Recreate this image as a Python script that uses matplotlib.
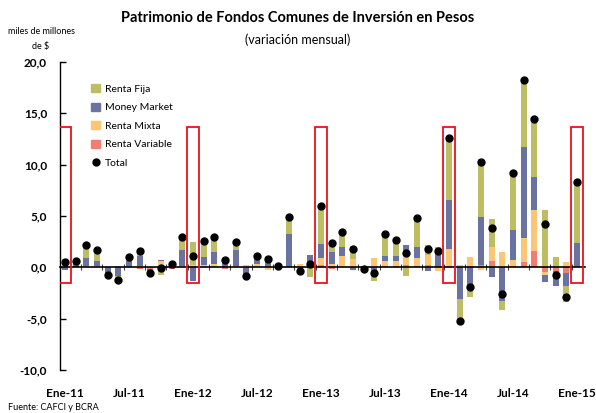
import numpy as np
import matplotlib
matplotlib.use('Agg')
import matplotlib.pyplot as plt
from matplotlib.lines import Line2D
from matplotlib.patches import Rectangle

plt.rcParams['font.family'] = ['Lato', 'DejaVu Sans']

# variacion mensual, miles de millones de $ (Ene-11 .. Ene-15)
fija = [0.8, 0.3, 1.2, 1.1, -0.2, -0.4, 0.3, 0.5, 0.0, -0.75, 0.15, 1.25,
        2.25, 1.6, 1.5, 0.4, 0.8, -0.15, 0.35, 0.15, 0.2, 1.7, -0.6, -0.9,
        3.7, 0.85, 1.45, 1.2, -0.1, -0.85, 2.05, 1.55, -0.8, 2.85, 1.0, 0.3,
        6.25, -2.2, -0.8, 5.6, 2.7, -0.9, 5.5, 6.5, 5.6, 5.6, 1.05, -1.6, 5.95]
money_market = [-0.3, 0.4, 0.8, 0.5, -0.55, -0.8, 0.6, 1.05, -0.3, 0.1, 0.15, 1.55,
                -1.3, 0.8, 1.15, 0.35, 1.55, -0.9, 0.5, 0.9, -0.2, 3.25, 0.0, 1.2,
                1.4, 1.2, 0.85, -0.3, -0.15, -0.5, 0.55, 0.5, 1.0, 1.05, -0.4, 1.7,
                4.75, -3.1, -2.1, 4.7, -0.9, -3.25, 2.9, 8.85, 3.2, -0.65, -1.4, -1.2, 2.2]
mixta = [0.0, 0.0, 0.15, 0.1, 0.05, 0.1, 0.05, 0.1, 0.0, 0.6, 0.0, 0.15,
         0.15, 0.25, 0.35, 0.05, 0.15, 0.2, 0.3, -0.3, 0.0, 0.0, 0.3, 0.0,
         0.65, 0.3, 1.15, 0.85, 0.0, 0.9, 0.45, 0.5, 0.95, 0.75, 0.95, -0.4,
         1.65, 0.25, 0.9, -0.3, 1.35, 1.5, 0.6, 2.35, 4.0, -0.25, 0.0, 0.55, 0.0]
variable = [0.0, 0.0, 0.0, 0.0, 0.0, 0.0, 0.0, -0.2, -0.2, 0.0, -0.2, 0.0,
            0.1, 0.0, 0.0, -0.2, 0.0, 0.0, 0.0, 0.0, 0.0, 0.0, 0.0, 0.0,
            0.25, -0.2, 0.0, 0.0, 0.0, 0.0, 0.15, 0.15, 0.25, 0.15, 0.25, 0.0,
            0.15, 0.0, 0.15, 0.25, 0.65, 0.0, 0.15, 0.55, 1.6, -0.5, -0.4, -0.6, 0.15]
total = [0.5, 0.65, 2.15, 1.7, -0.75, -1.25, 1.05, 1.6, -0.55, -0.05, 0.3, 2.95,
         1.15, 2.6, 3.0, 0.7, 2.5, -0.8, 1.1, 0.85, 0.1, 4.95, -0.35, 0.3,
         6.0, 2.35, 3.45, 1.8, -0.2, -0.55, 3.2, 2.7, 1.4, 4.8, 1.8, 1.55,
         12.6, -5.2, -1.95, 10.3, 3.85, -2.6, 9.15, 18.2, 14.4, 4.25, -0.75, -2.9, 8.3]
tick_labels = ['Ene-11', 'Jul-11', 'Ene-12', 'Jul-12', 'Ene-13',
               'Jul-13', 'Ene-14', 'Jul-14', 'Ene-15']

series = [('Renta Variable', variable, '#F27E72'),
          ('Renta Mixta', mixta, '#FCC676'),
          ('Money Market', money_market, '#6A72A0'),
          ('Renta Fija', fija, '#BDBE63')]

n = len(total)
x = np.arange(n)

fig = plt.figure(figsize=(5.96, 4.13), dpi=100)
ax = fig.add_axes([59.5 / 596, 43 / 413, 525 / 596, 308 / 413])

pos_base = np.zeros(n)
neg_base = np.zeros(n)
for name, vals, col in series:
    v = np.array(vals)
    base = np.where(v >= 0, pos_base, neg_base)
    ax.bar(x, v, 0.55, bottom=base, color=col, linewidth=0, zorder=2)
    pos_base += np.where(v >= 0, v, 0)
    neg_base += np.where(v < 0, v, 0)

ax.plot(x, total, 'o', color='black', markersize=5, zorder=4)

# recuadros de enero
for i in range(0, n, 12):
    ax.add_patch(Rectangle((i - 0.55, -1.5), 1.1, 15.2, fill=False,
                           edgecolor='#E8131D', linewidth=1.3, zorder=5))

ax.set_xlim(-0.52, 48.7)
ax.set_ylim(-10, 20)

# eje horizontal en cero con marcas cada dos meses
for s in ['top', 'right']:
    ax.spines[s].set_visible(False)
ax.spines['bottom'].set_position(('data', 0))
ax.spines['bottom'].set_linewidth(1.2)
ax.spines['bottom'].set_zorder(3)
ax.set_xticks(np.arange(1.5, n, 2))
ax.tick_params(axis='x', direction='inout', length=5, width=0.8,
               color='#444444', labelbottom=False)

sec = ax.secondary_xaxis(0)
sec.set_xticks(x[::6], tick_labels)
sec.spines['bottom'].set_visible(False)
sec.tick_params(length=0, pad=13)
for lab in sec.get_xticklabels():
    lab.set_fontweight('bold')
    lab.set_fontsize(8.5)

ax.spines['left'].set_linewidth(1.0)
ax.set_yticks(np.arange(-10, 21, 5))
ax.set_yticklabels(['{:.1f}'.format(t).replace('.', ',') for t in np.arange(-10, 21, 5)],
                   fontweight='bold', fontsize=8.5)
ax.tick_params(axis='y', direction='in', length=4, width=1.0, pad=9)

handles = [Rectangle((0, 0), 1, 1, color=c) for _, _, c in series[::-1]]
handles.append(Line2D([], [], marker='o', color='black', linestyle='none', markersize=5))
labels = [s[0] for s in series[::-1]] + ['Total']
ax.legend(handles, labels, loc='upper left', bbox_to_anchor=(82 / 596, 1 - 75 / 413),
          bbox_transform=fig.transFigure, frameon=False, fontsize=7.5,
          handlelength=0.8, handleheight=0.8, handletextpad=0.5, labelspacing=0.85)

fig.text(0.5, 1 - 18 / 413, 'Patrimonio de Fondos Comunes de Inversión en Pesos',
         ha='center', va='center', fontsize=10.5, fontweight='bold')
fig.text(0.5, 1 - 40 / 413, '(variación mensual)', ha='center', va='center', fontsize=9)
fig.text(42 / 596, 1 - 31 / 413, 'miles de millones', ha='center', va='center', fontsize=6.5)
fig.text(41 / 596, 1 - 47 / 413, 'de $', ha='center', va='center', fontsize=6.5)
fig.text(8 / 596, 1 - 407 / 413, 'Fuente: CAFCI y BCRA', ha='left', va='center', fontsize=6.5)

fig.savefig('out.png', dpi=100)
